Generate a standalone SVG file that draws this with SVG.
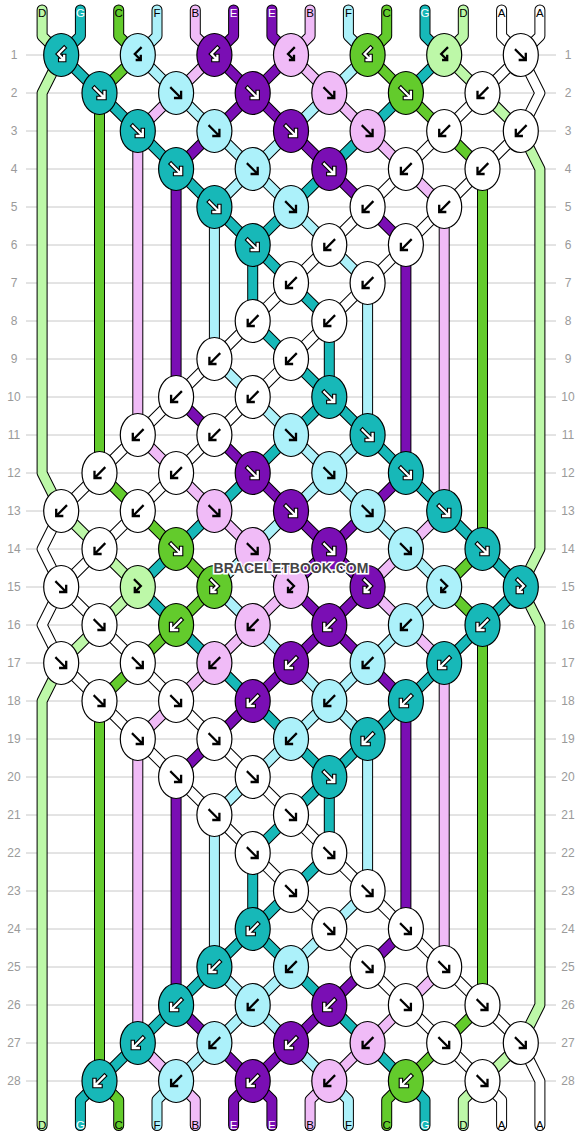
<svg xmlns="http://www.w3.org/2000/svg" width="582" height="1136" viewBox="0 0 582 1136">
<style>
text{font-family:"Liberation Sans",Arial,sans-serif}
.rl{font-size:12px;fill:#9a9a9a;text-anchor:middle}
.sl{font-size:11.5px;text-anchor:middle;fill:#000}
.sl .w{fill:#fff}
.grid{stroke:#c8c8c8;stroke-width:1;fill:none}
.ol{fill:none;stroke:#000;stroke-width:11;stroke-linecap:round;stroke-linejoin:round}
.cl{fill:none;stroke-width:9;stroke-linecap:round;stroke-linejoin:round}
.sA{stroke:#fff}.sB{stroke:#f0bbf7}.sC{stroke:#63cb2c}.sD{stroke:#bdf8a8}.sE{stroke:#7a0eb4}.sF{stroke:#acf1fa}.sG{stroke:#17b8b8}
.k{stroke:#000;stroke-width:1.2}
.A{fill:#fff}.B{fill:#f0bbf7}.C{fill:#63cb2c}.D{fill:#bdf8a8}.E{fill:#7a0eb4}.F{fill:#acf1fa}.G{fill:#17b8b8}
.ak{fill:none;stroke:#000;stroke-width:2.3;stroke-linecap:square}
.ao{fill:none;stroke:#000;stroke-width:4.5;stroke-linecap:square}
.ai{fill:none;stroke:#fff;stroke-width:2.3;stroke-linecap:square}
.wm{font-size:14px;font-weight:bold;fill:#444;stroke:#fff;stroke-width:3;paint-order:stroke;text-anchor:middle}
</style>
<defs>
<path id="pF" d="M-5,-5L4,4M5,-1V5H-1"/>
<path id="pB" d="M5,-5L-4,4M-5,-1V5H1"/>
<path id="pFB" d="M-3,-7L3,-1L-2.3,4.3M-3,1V5H1"/>
<path id="pBF" d="M3,-7L-3,-1L2.3,4.3M3,1V5H-1"/>
<g id="bF" class="ak"><use href="#pF"/></g>
<g id="bB" class="ak"><use href="#pB"/></g>
<g id="bFB" class="ak"><use href="#pFB"/></g>
<g id="bBF" class="ak"><use href="#pBF"/></g>
<g id="wF"><use href="#pF" class="ao"/><use href="#pF" class="ai"/></g>
<g id="wB"><use href="#pB" class="ao"/><use href="#pB" class="ai"/></g>
<g id="wFB"><use href="#pFB" class="ao"/><use href="#pFB" class="ai"/></g>
<g id="wBF"><use href="#pBF" class="ao"/><use href="#pBF" class="ai"/></g>
<path id="tA" d="M501.6,10V36L520.8,55L482.5,93L61.2,511L42.1,549L61.2,587L42.1,625L61.2,663L482.5,1081L501.6,1100V1125.5M539.9,10V36L520.8,55L539.9,93L520.8,131L99.5,549L61.2,587L99.5,625L520.8,1043L539.9,1081V1125.5"/>
<path id="tB" d="M195.3,10V36L214.4,55L176.1,93L137.8,131V435L291,587L137.8,739V1043L176.1,1081L195.3,1100V1125.5M310.1,10V36L291,55L329.3,93L444.2,207V511L367.6,587L444.2,663V967L329.3,1081L310.1,1100V1125.5"/>
<path id="tC" d="M118.7,10V36L137.8,55L99.5,93V473L214.4,587L99.5,701V1081L118.7,1100V1125.5M386.7,10V36L367.6,55L482.5,169V549L444.2,587L482.5,625V1005L405.9,1081L386.7,1100V1125.5"/>
<path id="tD" d="M42.1,10V36L61.2,55L42.1,93V473L61.2,511L137.8,587L61.2,663L42.1,701V1125.5M463.3,10V36L444.2,55L520.8,131L539.9,169V549L520.8,587L539.9,625V1005L520.8,1043L482.5,1081L463.3,1100V1125.5"/>
<path id="tE" d="M233.6,10V36L214.4,55L252.7,93L176.1,169V397L291,511L329.3,549L291,587L329.3,625L291,663L176.1,777V1005L252.7,1081L233.6,1100V1125.5M271.9,10V36L291,55L252.7,93L405.9,245V473L329.3,549L367.6,587L329.3,625L405.9,701V929L252.7,1081L271.9,1100V1125.5"/>
<path id="tF" d="M157,10V36L137.8,55L252.7,169L214.4,207V359L329.3,473L214.4,587L329.3,701L214.4,815V967L252.7,1005L176.1,1081L157,1100V1125.5M348.4,10V36L367.6,55L252.7,169L367.6,283V435L329.3,473L444.2,587L329.3,701L367.6,739V891L252.7,1005L329.3,1081L348.4,1100V1125.5"/>
<path id="tG" d="M80.4,10V36L61.2,55L252.7,245V321L329.3,397L137.8,587L329.3,777L252.7,853V929L99.5,1081L80.4,1100V1125.5M425,10V36L444.2,55L252.7,245L329.3,321V397L520.8,587L329.3,777V853L252.7,929L405.9,1081L425,1100V1125.5"/>
</defs>
<rect width="582" height="1136" fill="#fff"/>
<path class="grid" d="M26,55H556M26,93H556M26,131H556M26,169H556M26,207H556M26,245H556M26,283H556M26,321H556M26,359H556M26,397H556M26,435H556M26,473H556M26,511H556M26,549H556M26,587H556M26,625H556M26,663H556M26,701H556M26,739H556M26,777H556M26,815H556M26,853H556M26,891H556M26,929H556M26,967H556M26,1005H556M26,1043H556M26,1081H556"/>
<g id="rowlabels" class="rl">
<text x="14" y="59.3">1</text><text x="568" y="59.3">1</text>
<text x="14" y="97.3">2</text><text x="568" y="97.3">2</text>
<text x="14" y="135.3">3</text><text x="568" y="135.3">3</text>
<text x="14" y="173.3">4</text><text x="568" y="173.3">4</text>
<text x="14" y="211.3">5</text><text x="568" y="211.3">5</text>
<text x="14" y="249.3">6</text><text x="568" y="249.3">6</text>
<text x="14" y="287.3">7</text><text x="568" y="287.3">7</text>
<text x="14" y="325.3">8</text><text x="568" y="325.3">8</text>
<text x="14" y="363.3">9</text><text x="568" y="363.3">9</text>
<text x="14" y="401.3">10</text><text x="568" y="401.3">10</text>
<text x="14" y="439.3">11</text><text x="568" y="439.3">11</text>
<text x="14" y="477.3">12</text><text x="568" y="477.3">12</text>
<text x="14" y="515.3">13</text><text x="568" y="515.3">13</text>
<text x="14" y="553.3">14</text><text x="568" y="553.3">14</text>
<text x="14" y="591.3">15</text><text x="568" y="591.3">15</text>
<text x="14" y="629.3">16</text><text x="568" y="629.3">16</text>
<text x="14" y="667.3">17</text><text x="568" y="667.3">17</text>
<text x="14" y="705.3">18</text><text x="568" y="705.3">18</text>
<text x="14" y="743.3">19</text><text x="568" y="743.3">19</text>
<text x="14" y="781.3">20</text><text x="568" y="781.3">20</text>
<text x="14" y="819.3">21</text><text x="568" y="819.3">21</text>
<text x="14" y="857.3">22</text><text x="568" y="857.3">22</text>
<text x="14" y="895.3">23</text><text x="568" y="895.3">23</text>
<text x="14" y="933.3">24</text><text x="568" y="933.3">24</text>
<text x="14" y="971.3">25</text><text x="568" y="971.3">25</text>
<text x="14" y="1009.3">26</text><text x="568" y="1009.3">26</text>
<text x="14" y="1047.3">27</text><text x="568" y="1047.3">27</text>
<text x="14" y="1085.3">28</text><text x="568" y="1085.3">28</text>
</g>
<g id="connectors">
<g class="ol"><use href="#tA"/><use href="#tB"/><use href="#tC"/><use href="#tD"/><use href="#tE"/><use href="#tF"/><use href="#tG"/></g>
<g class="cl"><use href="#tA" class="sA"/><use href="#tB" class="sB"/><use href="#tC" class="sC"/><use href="#tD" class="sD"/><use href="#tE" class="sE"/><use href="#tF" class="sF"/><use href="#tG" class="sG"/></g>
</g>
<g id="strandlabels" class="sl">
<text x="42.1" y="16.7">D</text><text x="80.4" y="16.7" class="w">G</text><text x="118.7" y="16.7">C</text><text x="157" y="16.7">F</text><text x="195.3" y="16.7">B</text><text x="233.6" y="16.7" class="w">E</text><text x="271.9" y="16.7" class="w">E</text><text x="310.1" y="16.7">B</text><text x="348.4" y="16.7">F</text><text x="386.7" y="16.7">C</text><text x="425" y="16.7" class="w">G</text><text x="463.3" y="16.7">D</text><text x="501.6" y="16.7">A</text><text x="539.9" y="16.7">A</text>
<text x="42.1" y="1129">D</text><text x="80.4" y="1129" class="w">G</text><text x="118.7" y="1129">C</text><text x="157" y="1129">F</text><text x="195.3" y="1129">B</text><text x="233.6" y="1129" class="w">E</text><text x="271.9" y="1129" class="w">E</text><text x="310.1" y="1129">B</text><text x="348.4" y="1129">F</text><text x="386.7" y="1129">C</text><text x="425" y="1129" class="w">G</text><text x="463.3" y="1129">D</text><text x="501.6" y="1129">A</text><text x="539.9" y="1129">A</text>
</g>
<g id="knots">
<g id="r1k0"><ellipse class="k G" cx="61.2" cy="55" rx="17.5" ry="21.5"/><use href="#wBF" x="61.2" y="55"/></g>
<g id="r1k1"><ellipse class="k F" cx="137.8" cy="55" rx="17.5" ry="21.5"/><use href="#bBF" x="137.8" y="55"/></g>
<g id="r1k2"><ellipse class="k E" cx="214.4" cy="55" rx="17.5" ry="21.5"/><use href="#wBF" x="214.4" y="55"/></g>
<g id="r1k3"><ellipse class="k B" cx="291" cy="55" rx="17.5" ry="21.5"/><use href="#bBF" x="291" y="55"/></g>
<g id="r1k4"><ellipse class="k C" cx="367.6" cy="55" rx="17.5" ry="21.5"/><use href="#wBF" x="367.6" y="55"/></g>
<g id="r1k5"><ellipse class="k D" cx="444.2" cy="55" rx="17.5" ry="21.5"/><use href="#bBF" x="444.2" y="55"/></g>
<g id="r1k6"><ellipse class="k A" cx="520.8" cy="55" rx="17.5" ry="21.5"/><use href="#bF" x="520.8" y="55"/></g>
<g id="r2k0"><ellipse class="k G" cx="99.5" cy="93" rx="17.5" ry="21.5"/><use href="#wF" x="99.5" y="93"/></g>
<g id="r2k1"><ellipse class="k F" cx="176.1" cy="93" rx="17.5" ry="21.5"/><use href="#bF" x="176.1" y="93"/></g>
<g id="r2k2"><ellipse class="k E" cx="252.7" cy="93" rx="17.5" ry="21.5"/><use href="#wF" x="252.7" y="93"/></g>
<g id="r2k3"><ellipse class="k B" cx="329.3" cy="93" rx="17.5" ry="21.5"/><use href="#bF" x="329.3" y="93"/></g>
<g id="r2k4"><ellipse class="k C" cx="405.9" cy="93" rx="17.5" ry="21.5"/><use href="#wF" x="405.9" y="93"/></g>
<g id="r2k5"><ellipse class="k A" cx="482.5" cy="93" rx="17.5" ry="21.5"/><use href="#bB" x="482.5" y="93"/></g>
<g id="r3k1"><ellipse class="k G" cx="137.8" cy="131" rx="17.5" ry="21.5"/><use href="#wF" x="137.8" y="131"/></g>
<g id="r3k2"><ellipse class="k F" cx="214.4" cy="131" rx="17.5" ry="21.5"/><use href="#bF" x="214.4" y="131"/></g>
<g id="r3k3"><ellipse class="k E" cx="291" cy="131" rx="17.5" ry="21.5"/><use href="#wF" x="291" y="131"/></g>
<g id="r3k4"><ellipse class="k B" cx="367.6" cy="131" rx="17.5" ry="21.5"/><use href="#bF" x="367.6" y="131"/></g>
<g id="r3k5"><ellipse class="k A" cx="444.2" cy="131" rx="17.5" ry="21.5"/><use href="#bB" x="444.2" y="131"/></g>
<g id="r3k6"><ellipse class="k A" cx="520.8" cy="131" rx="17.5" ry="21.5"/><use href="#bB" x="520.8" y="131"/></g>
<g id="r4k1"><ellipse class="k G" cx="176.1" cy="169" rx="17.5" ry="21.5"/><use href="#wF" x="176.1" y="169"/></g>
<g id="r4k2"><ellipse class="k F" cx="252.7" cy="169" rx="17.5" ry="21.5"/><use href="#bF" x="252.7" y="169"/></g>
<g id="r4k3"><ellipse class="k E" cx="329.3" cy="169" rx="17.5" ry="21.5"/><use href="#wF" x="329.3" y="169"/></g>
<g id="r4k4"><ellipse class="k A" cx="405.9" cy="169" rx="17.5" ry="21.5"/><use href="#bB" x="405.9" y="169"/></g>
<g id="r4k5"><ellipse class="k A" cx="482.5" cy="169" rx="17.5" ry="21.5"/><use href="#bB" x="482.5" y="169"/></g>
<g id="r5k2"><ellipse class="k G" cx="214.4" cy="207" rx="17.5" ry="21.5"/><use href="#wF" x="214.4" y="207"/></g>
<g id="r5k3"><ellipse class="k F" cx="291" cy="207" rx="17.5" ry="21.5"/><use href="#bF" x="291" y="207"/></g>
<g id="r5k4"><ellipse class="k A" cx="367.6" cy="207" rx="17.5" ry="21.5"/><use href="#bB" x="367.6" y="207"/></g>
<g id="r5k5"><ellipse class="k A" cx="444.2" cy="207" rx="17.5" ry="21.5"/><use href="#bB" x="444.2" y="207"/></g>
<g id="r6k2"><ellipse class="k G" cx="252.7" cy="245" rx="17.5" ry="21.5"/><use href="#wF" x="252.7" y="245"/></g>
<g id="r6k3"><ellipse class="k A" cx="329.3" cy="245" rx="17.5" ry="21.5"/><use href="#bB" x="329.3" y="245"/></g>
<g id="r6k4"><ellipse class="k A" cx="405.9" cy="245" rx="17.5" ry="21.5"/><use href="#bB" x="405.9" y="245"/></g>
<g id="r7k3"><ellipse class="k A" cx="291" cy="283" rx="17.5" ry="21.5"/><use href="#bB" x="291" y="283"/></g>
<g id="r7k4"><ellipse class="k A" cx="367.6" cy="283" rx="17.5" ry="21.5"/><use href="#bB" x="367.6" y="283"/></g>
<g id="r8k2"><ellipse class="k A" cx="252.7" cy="321" rx="17.5" ry="21.5"/><use href="#bB" x="252.7" y="321"/></g>
<g id="r8k3"><ellipse class="k A" cx="329.3" cy="321" rx="17.5" ry="21.5"/><use href="#bB" x="329.3" y="321"/></g>
<g id="r9k2"><ellipse class="k A" cx="214.4" cy="359" rx="17.5" ry="21.5"/><use href="#bB" x="214.4" y="359"/></g>
<g id="r9k3"><ellipse class="k A" cx="291" cy="359" rx="17.5" ry="21.5"/><use href="#bB" x="291" y="359"/></g>
<g id="r10k1"><ellipse class="k A" cx="176.1" cy="397" rx="17.5" ry="21.5"/><use href="#bB" x="176.1" y="397"/></g>
<g id="r10k2"><ellipse class="k A" cx="252.7" cy="397" rx="17.5" ry="21.5"/><use href="#bB" x="252.7" y="397"/></g>
<g id="r10k3"><ellipse class="k G" cx="329.3" cy="397" rx="17.5" ry="21.5"/><use href="#wF" x="329.3" y="397"/></g>
<g id="r11k1"><ellipse class="k A" cx="137.8" cy="435" rx="17.5" ry="21.5"/><use href="#bB" x="137.8" y="435"/></g>
<g id="r11k2"><ellipse class="k A" cx="214.4" cy="435" rx="17.5" ry="21.5"/><use href="#bB" x="214.4" y="435"/></g>
<g id="r11k3"><ellipse class="k F" cx="291" cy="435" rx="17.5" ry="21.5"/><use href="#bF" x="291" y="435"/></g>
<g id="r11k4"><ellipse class="k G" cx="367.6" cy="435" rx="17.5" ry="21.5"/><use href="#wF" x="367.6" y="435"/></g>
<g id="r12k0"><ellipse class="k A" cx="99.5" cy="473" rx="17.5" ry="21.5"/><use href="#bB" x="99.5" y="473"/></g>
<g id="r12k1"><ellipse class="k A" cx="176.1" cy="473" rx="17.5" ry="21.5"/><use href="#bB" x="176.1" y="473"/></g>
<g id="r12k2"><ellipse class="k E" cx="252.7" cy="473" rx="17.5" ry="21.5"/><use href="#wF" x="252.7" y="473"/></g>
<g id="r12k3"><ellipse class="k F" cx="329.3" cy="473" rx="17.5" ry="21.5"/><use href="#bF" x="329.3" y="473"/></g>
<g id="r12k4"><ellipse class="k G" cx="405.9" cy="473" rx="17.5" ry="21.5"/><use href="#wF" x="405.9" y="473"/></g>
<g id="r13k0"><ellipse class="k A" cx="61.2" cy="511" rx="17.5" ry="21.5"/><use href="#bB" x="61.2" y="511"/></g>
<g id="r13k1"><ellipse class="k A" cx="137.8" cy="511" rx="17.5" ry="21.5"/><use href="#bB" x="137.8" y="511"/></g>
<g id="r13k2"><ellipse class="k B" cx="214.4" cy="511" rx="17.5" ry="21.5"/><use href="#bF" x="214.4" y="511"/></g>
<g id="r13k3"><ellipse class="k E" cx="291" cy="511" rx="17.5" ry="21.5"/><use href="#wF" x="291" y="511"/></g>
<g id="r13k4"><ellipse class="k F" cx="367.6" cy="511" rx="17.5" ry="21.5"/><use href="#bF" x="367.6" y="511"/></g>
<g id="r13k5"><ellipse class="k G" cx="444.2" cy="511" rx="17.5" ry="21.5"/><use href="#wF" x="444.2" y="511"/></g>
<g id="r14k0"><ellipse class="k A" cx="99.5" cy="549" rx="17.5" ry="21.5"/><use href="#bB" x="99.5" y="549"/></g>
<g id="r14k1"><ellipse class="k C" cx="176.1" cy="549" rx="17.5" ry="21.5"/><use href="#wF" x="176.1" y="549"/></g>
<g id="r14k2"><ellipse class="k B" cx="252.7" cy="549" rx="17.5" ry="21.5"/><use href="#bF" x="252.7" y="549"/></g>
<g id="r14k3"><ellipse class="k E" cx="329.3" cy="549" rx="17.5" ry="21.5"/><use href="#wF" x="329.3" y="549"/></g>
<g id="r14k4"><ellipse class="k F" cx="405.9" cy="549" rx="17.5" ry="21.5"/><use href="#bF" x="405.9" y="549"/></g>
<g id="r14k5"><ellipse class="k G" cx="482.5" cy="549" rx="17.5" ry="21.5"/><use href="#wF" x="482.5" y="549"/></g>
<g id="r15k0"><ellipse class="k A" cx="61.2" cy="587" rx="17.5" ry="21.5"/><use href="#bF" x="61.2" y="587"/></g>
<g id="r15k1"><ellipse class="k D" cx="137.8" cy="587" rx="17.5" ry="21.5"/><use href="#bFB" x="137.8" y="587"/></g>
<g id="r15k2"><ellipse class="k C" cx="214.4" cy="587" rx="17.5" ry="21.5"/><use href="#wFB" x="214.4" y="587"/></g>
<g id="r15k3"><ellipse class="k B" cx="291" cy="587" rx="17.5" ry="21.5"/><use href="#bFB" x="291" y="587"/></g>
<g id="r15k4"><ellipse class="k E" cx="367.6" cy="587" rx="17.5" ry="21.5"/><use href="#wFB" x="367.6" y="587"/></g>
<g id="r15k5"><ellipse class="k F" cx="444.2" cy="587" rx="17.5" ry="21.5"/><use href="#bFB" x="444.2" y="587"/></g>
<g id="r15k6"><ellipse class="k G" cx="520.8" cy="587" rx="17.5" ry="21.5"/><use href="#wFB" x="520.8" y="587"/></g>
<g id="r16k0"><ellipse class="k A" cx="99.5" cy="625" rx="17.5" ry="21.5"/><use href="#bF" x="99.5" y="625"/></g>
<g id="r16k1"><ellipse class="k C" cx="176.1" cy="625" rx="17.5" ry="21.5"/><use href="#wB" x="176.1" y="625"/></g>
<g id="r16k2"><ellipse class="k B" cx="252.7" cy="625" rx="17.5" ry="21.5"/><use href="#bB" x="252.7" y="625"/></g>
<g id="r16k3"><ellipse class="k E" cx="329.3" cy="625" rx="17.5" ry="21.5"/><use href="#wB" x="329.3" y="625"/></g>
<g id="r16k4"><ellipse class="k F" cx="405.9" cy="625" rx="17.5" ry="21.5"/><use href="#bB" x="405.9" y="625"/></g>
<g id="r16k5"><ellipse class="k G" cx="482.5" cy="625" rx="17.5" ry="21.5"/><use href="#wB" x="482.5" y="625"/></g>
<g id="r17k0"><ellipse class="k A" cx="61.2" cy="663" rx="17.5" ry="21.5"/><use href="#bF" x="61.2" y="663"/></g>
<g id="r17k1"><ellipse class="k A" cx="137.8" cy="663" rx="17.5" ry="21.5"/><use href="#bF" x="137.8" y="663"/></g>
<g id="r17k2"><ellipse class="k B" cx="214.4" cy="663" rx="17.5" ry="21.5"/><use href="#bB" x="214.4" y="663"/></g>
<g id="r17k3"><ellipse class="k E" cx="291" cy="663" rx="17.5" ry="21.5"/><use href="#wB" x="291" y="663"/></g>
<g id="r17k4"><ellipse class="k F" cx="367.6" cy="663" rx="17.5" ry="21.5"/><use href="#bB" x="367.6" y="663"/></g>
<g id="r17k5"><ellipse class="k G" cx="444.2" cy="663" rx="17.5" ry="21.5"/><use href="#wB" x="444.2" y="663"/></g>
<g id="r18k0"><ellipse class="k A" cx="99.5" cy="701" rx="17.5" ry="21.5"/><use href="#bF" x="99.5" y="701"/></g>
<g id="r18k1"><ellipse class="k A" cx="176.1" cy="701" rx="17.5" ry="21.5"/><use href="#bF" x="176.1" y="701"/></g>
<g id="r18k2"><ellipse class="k E" cx="252.7" cy="701" rx="17.5" ry="21.5"/><use href="#wB" x="252.7" y="701"/></g>
<g id="r18k3"><ellipse class="k F" cx="329.3" cy="701" rx="17.5" ry="21.5"/><use href="#bB" x="329.3" y="701"/></g>
<g id="r18k4"><ellipse class="k G" cx="405.9" cy="701" rx="17.5" ry="21.5"/><use href="#wB" x="405.9" y="701"/></g>
<g id="r19k1"><ellipse class="k A" cx="137.8" cy="739" rx="17.5" ry="21.5"/><use href="#bF" x="137.8" y="739"/></g>
<g id="r19k2"><ellipse class="k A" cx="214.4" cy="739" rx="17.5" ry="21.5"/><use href="#bF" x="214.4" y="739"/></g>
<g id="r19k3"><ellipse class="k F" cx="291" cy="739" rx="17.5" ry="21.5"/><use href="#bB" x="291" y="739"/></g>
<g id="r19k4"><ellipse class="k G" cx="367.6" cy="739" rx="17.5" ry="21.5"/><use href="#wB" x="367.6" y="739"/></g>
<g id="r20k1"><ellipse class="k A" cx="176.1" cy="777" rx="17.5" ry="21.5"/><use href="#bF" x="176.1" y="777"/></g>
<g id="r20k2"><ellipse class="k A" cx="252.7" cy="777" rx="17.5" ry="21.5"/><use href="#bF" x="252.7" y="777"/></g>
<g id="r20k3"><ellipse class="k G" cx="329.3" cy="777" rx="17.5" ry="21.5"/><use href="#wF" x="329.3" y="777"/></g>
<g id="r21k2"><ellipse class="k A" cx="214.4" cy="815" rx="17.5" ry="21.5"/><use href="#bF" x="214.4" y="815"/></g>
<g id="r21k3"><ellipse class="k A" cx="291" cy="815" rx="17.5" ry="21.5"/><use href="#bF" x="291" y="815"/></g>
<g id="r22k2"><ellipse class="k A" cx="252.7" cy="853" rx="17.5" ry="21.5"/><use href="#bF" x="252.7" y="853"/></g>
<g id="r22k3"><ellipse class="k A" cx="329.3" cy="853" rx="17.5" ry="21.5"/><use href="#bF" x="329.3" y="853"/></g>
<g id="r23k3"><ellipse class="k A" cx="291" cy="891" rx="17.5" ry="21.5"/><use href="#bF" x="291" y="891"/></g>
<g id="r23k4"><ellipse class="k A" cx="367.6" cy="891" rx="17.5" ry="21.5"/><use href="#bF" x="367.6" y="891"/></g>
<g id="r24k2"><ellipse class="k G" cx="252.7" cy="929" rx="17.5" ry="21.5"/><use href="#wB" x="252.7" y="929"/></g>
<g id="r24k3"><ellipse class="k A" cx="329.3" cy="929" rx="17.5" ry="21.5"/><use href="#bF" x="329.3" y="929"/></g>
<g id="r24k4"><ellipse class="k A" cx="405.9" cy="929" rx="17.5" ry="21.5"/><use href="#bF" x="405.9" y="929"/></g>
<g id="r25k2"><ellipse class="k G" cx="214.4" cy="967" rx="17.5" ry="21.5"/><use href="#wB" x="214.4" y="967"/></g>
<g id="r25k3"><ellipse class="k F" cx="291" cy="967" rx="17.5" ry="21.5"/><use href="#bB" x="291" y="967"/></g>
<g id="r25k4"><ellipse class="k A" cx="367.6" cy="967" rx="17.5" ry="21.5"/><use href="#bF" x="367.6" y="967"/></g>
<g id="r25k5"><ellipse class="k A" cx="444.2" cy="967" rx="17.5" ry="21.5"/><use href="#bF" x="444.2" y="967"/></g>
<g id="r26k1"><ellipse class="k G" cx="176.1" cy="1005" rx="17.5" ry="21.5"/><use href="#wB" x="176.1" y="1005"/></g>
<g id="r26k2"><ellipse class="k F" cx="252.7" cy="1005" rx="17.5" ry="21.5"/><use href="#bB" x="252.7" y="1005"/></g>
<g id="r26k3"><ellipse class="k E" cx="329.3" cy="1005" rx="17.5" ry="21.5"/><use href="#wB" x="329.3" y="1005"/></g>
<g id="r26k4"><ellipse class="k A" cx="405.9" cy="1005" rx="17.5" ry="21.5"/><use href="#bF" x="405.9" y="1005"/></g>
<g id="r26k5"><ellipse class="k A" cx="482.5" cy="1005" rx="17.5" ry="21.5"/><use href="#bF" x="482.5" y="1005"/></g>
<g id="r27k1"><ellipse class="k G" cx="137.8" cy="1043" rx="17.5" ry="21.5"/><use href="#wB" x="137.8" y="1043"/></g>
<g id="r27k2"><ellipse class="k F" cx="214.4" cy="1043" rx="17.5" ry="21.5"/><use href="#bB" x="214.4" y="1043"/></g>
<g id="r27k3"><ellipse class="k E" cx="291" cy="1043" rx="17.5" ry="21.5"/><use href="#wB" x="291" y="1043"/></g>
<g id="r27k4"><ellipse class="k B" cx="367.6" cy="1043" rx="17.5" ry="21.5"/><use href="#bB" x="367.6" y="1043"/></g>
<g id="r27k5"><ellipse class="k A" cx="444.2" cy="1043" rx="17.5" ry="21.5"/><use href="#bF" x="444.2" y="1043"/></g>
<g id="r27k6"><ellipse class="k A" cx="520.8" cy="1043" rx="17.5" ry="21.5"/><use href="#bF" x="520.8" y="1043"/></g>
<g id="r28k0"><ellipse class="k G" cx="99.5" cy="1081" rx="17.5" ry="21.5"/><use href="#wB" x="99.5" y="1081"/></g>
<g id="r28k1"><ellipse class="k F" cx="176.1" cy="1081" rx="17.5" ry="21.5"/><use href="#bB" x="176.1" y="1081"/></g>
<g id="r28k2"><ellipse class="k E" cx="252.7" cy="1081" rx="17.5" ry="21.5"/><use href="#wB" x="252.7" y="1081"/></g>
<g id="r28k3"><ellipse class="k B" cx="329.3" cy="1081" rx="17.5" ry="21.5"/><use href="#bB" x="329.3" y="1081"/></g>
<g id="r28k4"><ellipse class="k C" cx="405.9" cy="1081" rx="17.5" ry="21.5"/><use href="#wB" x="405.9" y="1081"/></g>
<g id="r28k5"><ellipse class="k A" cx="482.5" cy="1081" rx="17.5" ry="21.5"/><use href="#bF" x="482.5" y="1081"/></g>
</g>
<text id="watermark" class="wm" x="291" y="573">BRACELETBOOK.COM</text>
</svg>
